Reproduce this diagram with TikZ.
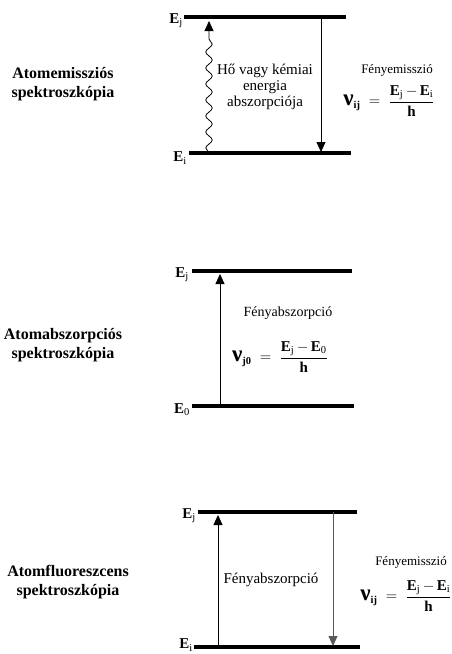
\documentclass[tikz,border=0pt]{standalone}
\usepackage{fix-cm}
\usepackage{amsmath}
\usepackage{fontspec}
\setmainfont{Liberation Serif}
\usepackage{tikz}
\usetikzlibrary{arrows.meta,decorations.pathmorphing}
\tikzset{
  every picture/.style={line join=round, >=Stealth},
  level/.style={line width=3.6pt},
  trans/.style={line width=0.8pt,-{Triangle[length=10pt,width=9pt]}},
  wavy/.style={trans,decorate,decoration={snake,amplitude=3.2pt,segment length=16pt,post length=12pt}},
  elab/.style={anchor=east,inner sep=1pt,font=\fontsize{15}{17}\selectfont},
  method/.style={align=center,font=\fontsize{16}{19}\selectfont\bfseries},
  proc/.style={align=center,font=\fontsize{13}{16}\selectfont},
  eq/.style={inner sep=1pt,font=\fontsize{15}{18}\selectfont},
}
\newcommand{\lvl}[1]{\textbf{E}\textsubscript{#1}}
\newcommand{\freq}[2]{$\text{\fontsize{23}{23}\selectfont\textbf{ν}}_{\text{\textbf{#1}}}\;=\;\dfrac{\text{\textbf{E}}_{\text{j}}\,{-}\,\text{\textbf{E}}_{\text{#2}}}{\text{\textbf{h}}}$}

\begin{document}
\begin{tikzpicture}[x=1pt,y=-1pt]
\useasboundingbox (0,0) rectangle (452,654);
\coordinate (ja) at (184,17);  \coordinate (jb) at (346,17);
\coordinate (ia) at (189,153); \coordinate (ib) at (351,153);
\draw[level](ja)--(jb) (ia)--(ib);
\node[elab](Eja) at (184,21){\lvl{j}};
\node[elab](Eia) at (188,158){\lvl{i}};
\coordinate (wa) at (209,153); \coordinate (wb) at (209,21);
\coordinate (da) at (321,17);  \coordinate (db) at (321,152);
\draw[wavy](wa)--(wb);
\draw[trans](da)--(db);
\node[proc,font=\fontsize{15}{16}\selectfont](heat) at (265,87){Hő vagy kémiai\\energia\\abszorpciója};
\node[proc](emA) at (397,70){Fényemisszió};
\node[eq](nuA) at (389,101){\freq{ij}{i}};
\node[method](aes) at (63,84){Atomemissziós\\spektroszkópia};

\coordinate (jc) at (192,271); \coordinate (jd) at (352,271);
\coordinate (oc) at (192,406); \coordinate (od) at (354,406);
\draw[level](jc)--(jd) (oc)--(od);
\node[elab](Ejb) at (190,275){\lvl{j}};
\node[elab](E0b) at (191,410){\lvl{0}};
\coordinate (ua) at (220,406); \coordinate (ub) at (220,274);
\draw[trans](ua)--(ub);
\node[proc,font=\fontsize{14}{16}\selectfont](absB) at (288,313){Fényabszorpció};
\node[eq](nuB) at (280,357){\freq{j0}{0}};
\node[method](aas) at (63,345){Atomabszorpciós\\spektroszkópia};

\coordinate (je) at (198,512); \coordinate (jf) at (357,512);
\coordinate (ie) at (194,647); \coordinate (if) at (360,647);
\draw[level](je)--(jf) (ie)--(if);
\node[elab](Ejc) at (197,516){\lvl{j}};
\node[elab](Eic) at (194,645){\lvl{i}};
\coordinate (uc) at (218,647); \coordinate (ud) at (218,515);
\coordinate (dc) at (333,512); \coordinate (dd) at (333,646);
\draw[trans](uc)--(ud);
\draw[trans,draw=black!65,fill=black!65](dc)--(dd);
\node[proc,font=\fontsize{15}{16}\selectfont](absC) at (271,580){Fényabszorpció};
\node[proc](emC) at (411,562){Fényemisszió};
\node[eq](nuC) at (406,596){\freq{ij}{i}};
\node[method](afs) at (68,582){Atomfluoreszcens\\spektroszkópia};
\end{tikzpicture}
\end{document}
